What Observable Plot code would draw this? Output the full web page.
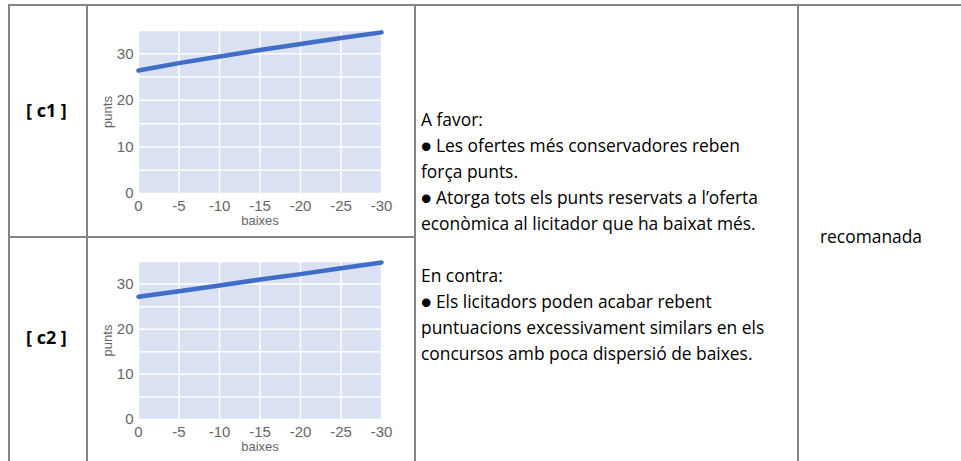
<!DOCTYPE html>
<html>
<head>
<meta charset="utf-8">
<script src="https://cdn.jsdelivr.net/npm/d3@7"></script>
<script src="https://cdn.jsdelivr.net/npm/@observablehq/plot@0.6"></script>
<style>
  html, body { margin: 0; padding: 0; background: #fff; }
  #page { position: relative; width: 961px; height: 461px; overflow: hidden; font-family: "Open Sans", Lato, sans-serif; }
  .hl, .vl { position: absolute; background: #858585; }
  .lbl { position: absolute; font-weight: bold; font-size: 18px; color: #000; }
  .txt { position: absolute; font-size: 17.4px; line-height: 26px; color: #000; white-space: pre; }
  .chart { position: absolute; }
</style>
</head>
<body>
<div id="page">
  <div class="hl" style="left:8px; top:4px; width:953px; height:2px"></div>
  <div class="vl" style="left:8px; top:4px; width:2px; height:457px"></div>
  <div class="vl" style="left:86px; top:4px; width:2px; height:457px"></div>
  <div class="vl" style="left:414px; top:4px; width:2px; height:457px"></div>
  <div class="vl" style="left:797px; top:4px; width:2px; height:457px"></div>
  <div class="hl" style="left:8px; top:236px; width:408px; height:2px"></div>
  <div id="l1" class="lbl" style="left:26px; top:98px"></div>
  <div id="l2" class="lbl" style="left:26px; top:325px"></div>
  <div id="txt" class="txt" style="left:421px; top:106px"></div>
  <div id="rec" class="txt" style="left:799px; width:144px; text-align:center; top:223px"></div>
  <div id="c1" class="chart" style="left:88px; top:8px"></div>
  <div id="c2" class="chart" style="left:88px; top:239px"></div>
</div>
<script>
// ---- data ----
const baixes = [0, -5, -10, -15, -20, -25, -30];
const puntsC1 = [26.4, 28.0, 29.4, 30.8, 32.1, 33.4, 34.6];
const puntsC2 = [27.2, 28.4, 29.7, 31.0, 32.2, 33.5, 34.8];
const xTicks = [0, -5, -10, -15, -20, -25, -30];
const yTicksLabeled = [0, 10, 20, 30];
const yGrid = [0, 5, 10, 15, 20, 25, 30, 35];
const rowLabels = ["[ c1 ]", "[ c2 ]"];
const textLines = [
  "A favor:",
  "\u25CF Les ofertes més conservadores reben",
  "força punts.",
  "\u25CF Atorga tots els punts reservats a l\u2019oferta",
  "econòmica al licitador que ha baixat més.",
  "",
  "En contra:",
  "\u25CF Els licitadors poden acabar rebent",
  "puntuacions excessivament similars en els",
  "concursos amb poca dispersió de baixes."
];
const recomanacio = "recomanada";

document.getElementById("l1").textContent = rowLabels[0];
document.getElementById("l2").textContent = rowLabels[1];
document.getElementById("txt").textContent = textLines.join("\n");
document.getElementById("rec").textContent = recomanacio;

function chart(values, height, marginBottom) {
  const data = baixes.map((b, i) => ({b, p: values[i]}));
  return Plot.plot({
    width: 320,
    height,
    marginLeft: 50,
    marginRight: 27,
    marginTop: 22,
    marginBottom,
    style: {fontFamily: "Liberation Sans, Arial, sans-serif", fontSize: "15px", color: "#666", background: "transparent"},
    x: {domain: [0, -30]},
    y: {domain: [0, 35]},
    marks: [
      Plot.frame({fill: "#d9e1f2", stroke: null}),
      Plot.gridX(xTicks, {stroke: "#fff", strokeOpacity: 1, strokeWidth: 1.5}),
      Plot.gridY(yGrid, {stroke: "#fff", strokeOpacity: 1, strokeWidth: 1.5}),
      Plot.axisX(xTicks, {tickSize: 0, tickPadding: 7, tickFormat: d => String(d), fontSize: 15, label: null}),
      Plot.axisX({tickSize: 0, ticks: [], label: "baixes", labelAnchor: "center", labelArrow: "none", labelOffset: 31, fontSize: 13}),
      Plot.axisY(yTicksLabeled, {tickSize: 0, tickPadding: 5, tickFormat: d => String(d), fontSize: 15, label: null}),
      Plot.axisY({tickSize: 0, ticks: [], label: "punts", labelAnchor: "center", labelArrow: "none", labelOffset: 36, fontSize: 13}),
      Plot.line(data, {x: "b", y: "p", stroke: "#3f6dc8", strokeWidth: 4.5})
    ]
  });
}
document.getElementById("c1").append(chart(puntsC1, 225, 40));
document.getElementById("c2").append(chart(puntsC2, 221, 41));
</script>
</body>
</html>
